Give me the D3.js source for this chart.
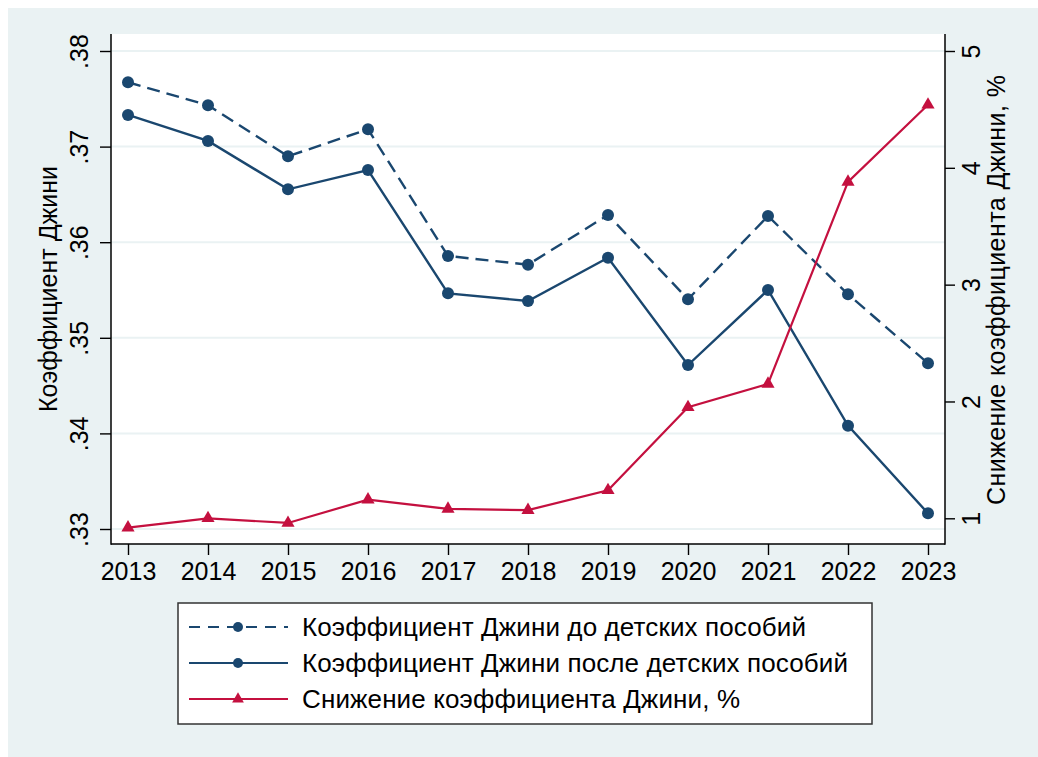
<html>
<head>
<script src="https://cdnjs.cloudflare.com/ajax/libs/d3/7.8.5/d3.min.js"></script>
  <meta charset="utf-8">
  <title>Gini</title>
  <style>
    body { margin: 0; background: #fff; }
    text { font-family: "Liberation Sans", Arial, sans-serif; fill: #000; }
  </style>
</head>
<body>
	<script type="text/javascript">

		var w = 1038;
		var h = 757;

		// data
		var years = [2013, 2014, 2015, 2016, 2017, 2018, 2019, 2020, 2021, 2022, 2023];
		var giniBefore = [0.37673, 0.37432, 0.36899, 0.37181, 0.35856, 0.35765, 0.36285, 0.35403, 0.36274, 0.35455, 0.34733];
		var giniAfter = [0.37331, 0.37059, 0.36553, 0.36755, 0.35465, 0.35385, 0.35838, 0.34715, 0.35500, 0.34081, 0.33164];
		var giniReduction = [0.92, 1.00, 0.96, 1.16, 1.08, 1.07, 1.24, 1.95, 2.15, 3.88, 4.54];

		var leftTicks = [0.33, 0.34, 0.35, 0.36, 0.37, 0.38];
		var rightTicks = [1, 2, 3, 4, 5];
		var legendLabels = ["Коэффициент Джини до детских пособий",
			"Коэффициент Джини после детских пособий",
			"Снижение коэффициента Джини, %"];
		var legendWidths = [504, 546, 438];

		var navy = "#1a476f";
		var red = "#c4103f";
		var bg = "#eaf2f3";

		// plot region
		var pLeft = 111, pRight = 945, pTop = 34, pBottom = 544;

		var x = d3.scaleLinear().domain([2013, 2023]).range([128, 928]);
		var yL = d3.scaleLinear().domain([0.33, 0.38]).range([529, 51]);
		var yR = d3.scaleLinear().domain([1, 5]).range([518.3, 51]);

		var svg = d3.select("body")
					.append("svg")
					.attr("width", w)
					.attr("height", h);

		svg.append("rect").attr("x", 8).attr("y", 8)
			.attr("width", w - 8).attr("height", h - 8).attr("fill", bg);

		svg.append("rect").attr("x", pLeft).attr("y", pTop)
			.attr("width", pRight - pLeft).attr("height", pBottom - pTop).attr("fill", "#fff");

		// gridlines
		svg.selectAll(".grid").data(leftTicks).enter()
			.append("line")
			.attr("x1", pLeft).attr("x2", pRight)
			.attr("y1", function(d) { return yL(d); })
			.attr("y2", function(d) { return yL(d); })
			.attr("stroke", bg).attr("stroke-width", 2);

		// axes
		var axL = svg.append("g").attr("transform", "translate(" + pLeft + ",0)")
			.call(d3.axisLeft(yL).tickValues(leftTicks).tickSize(11).tickPadding(0)
				.tickFormat(function(d) { return d3.format(".2f")(d).replace(/^0/, ""); }));
		var axR = svg.append("g").attr("transform", "translate(" + pRight + ",0)")
			.call(d3.axisRight(yR).tickValues(rightTicks).tickSize(10).tickPadding(0)
				.tickFormat(d3.format("d")));
		var axB = svg.append("g").attr("transform", "translate(0," + pBottom + ")")
			.call(d3.axisBottom(x).tickValues(years).tickSize(11).tickFormat(d3.format("d")));

		[axL, axR, axB].forEach(function(a) {
			a.select(".domain").remove();
			a.selectAll("line").attr("stroke", "#000").attr("stroke-width", 1.4);
			a.selectAll("text").attr("font-size", "25px").attr("fill", "#000")
				.attr("font-family", "Liberation Sans, Arial, sans-serif");
		});
		axL.selectAll("text")
			.attr("x", null).attr("dy", null)
			.attr("text-anchor", "middle")
			.attr("transform", "translate(-23,0) rotate(-90)");
		axR.selectAll("text")
			.attr("x", null).attr("dy", null)
			.attr("text-anchor", "middle")
			.attr("transform", "translate(35,0) rotate(-90)");
		axB.selectAll("text").attr("y", 36).attr("dy", null);

		// axis lines
		svg.append("line").attr("x1", pLeft).attr("x2", pLeft).attr("y1", pTop).attr("y2", pBottom + 0.7)
			.attr("stroke", "#000").attr("stroke-width", 1.5);
		svg.append("line").attr("x1", pRight).attr("x2", pRight).attr("y1", pTop).attr("y2", pBottom + 0.7)
			.attr("stroke", "#000").attr("stroke-width", 1.5);
		svg.append("line").attr("x1", pLeft).attr("x2", pRight).attr("y1", pBottom).attr("y2", pBottom)
			.attr("stroke", "#000").attr("stroke-width", 1.5);

		// axis titles
		svg.append("text").text("Коэффициент Джини")
			.attr("transform", "translate(57,289) rotate(-90)")
			.attr("text-anchor", "middle").attr("font-size", "25px");
		svg.append("text").text("Снижение коэффициента Джини, %")
			.attr("transform", "translate(1005,290) rotate(-90)")
			.attr("text-anchor", "middle").attr("font-size", "25px")
			.attr("textLength", 430).attr("lengthAdjust", "spacing");

		// series
		var lineL = d3.line()
			.x(function(d, i) { return x(years[i]); })
			.y(function(d) { return yL(d); });
		var lineR = d3.line()
			.x(function(d, i) { return x(years[i]); })
			.y(function(d) { return yR(d); });

		svg.append("path").attr("d", lineL(giniBefore)).attr("fill", "none")
			.attr("stroke", navy).attr("stroke-width", 2.4).attr("stroke-dasharray", "13,7");
		svg.append("path").attr("d", lineL(giniAfter)).attr("fill", "none")
			.attr("stroke", navy).attr("stroke-width", 2.4);
		svg.append("path").attr("d", lineR(giniReduction)).attr("fill", "none")
			.attr("stroke", red).attr("stroke-width", 2.2);

		[giniBefore, giniAfter].forEach(function(s) {
			svg.append("g").selectAll("circle").data(s).enter()
				.append("circle")
				.attr("cx", function(d, i) { return x(years[i]); })
				.attr("cy", function(d) { return yL(d); })
				.attr("r", 6).attr("fill", navy);
		});

		var tri = d3.symbol().type(d3.symbolTriangle).size(75);
		svg.append("g").selectAll("path").data(giniReduction).enter()
			.append("path")
			.attr("d", tri)
			.attr("transform", function(d, i) { return "translate(" + x(years[i]) + "," + yR(d) + ")"; })
			.attr("fill", red);

		// legend
		svg.append("rect").attr("x", 178).attr("y", 603).attr("width", 694).attr("height", 121)
			.attr("fill", "#fff").attr("stroke", "#333").attr("stroke-width", 1.5);

		var rowY = [627, 663, 699];
		var legStyles = [
			{ color: navy, dash: "11,8", marker: "circle" },
			{ color: navy, dash: null, marker: "circle" },
			{ color: red, dash: null, marker: "triangle" }
		];
		legendLabels.forEach(function(lbl, i) {
			var st = legStyles[i];
			svg.append("line").attr("x1", 189).attr("x2", 288)
				.attr("y1", rowY[i]).attr("y2", rowY[i])
				.attr("stroke", st.color).attr("stroke-width", 2.2)
				.attr("stroke-dasharray", st.dash);
			if (st.marker == "circle") {
				svg.append("circle").attr("cx", 238).attr("cy", rowY[i]).attr("r", 5).attr("fill", st.color);
			} else {
				svg.append("path").attr("d", d3.symbol().type(d3.symbolTriangle).size(60))
					.attr("transform", "translate(238," + rowY[i] + ")").attr("fill", st.color);
			}
			svg.append("text").text(lbl)
				.attr("x", 302).attr("y", rowY[i] + 9)
				.attr("font-size", "26px")
				.attr("textLength", legendWidths[i]).attr("lengthAdjust", "spacing");
		});
	</script>
</body>
</html>
